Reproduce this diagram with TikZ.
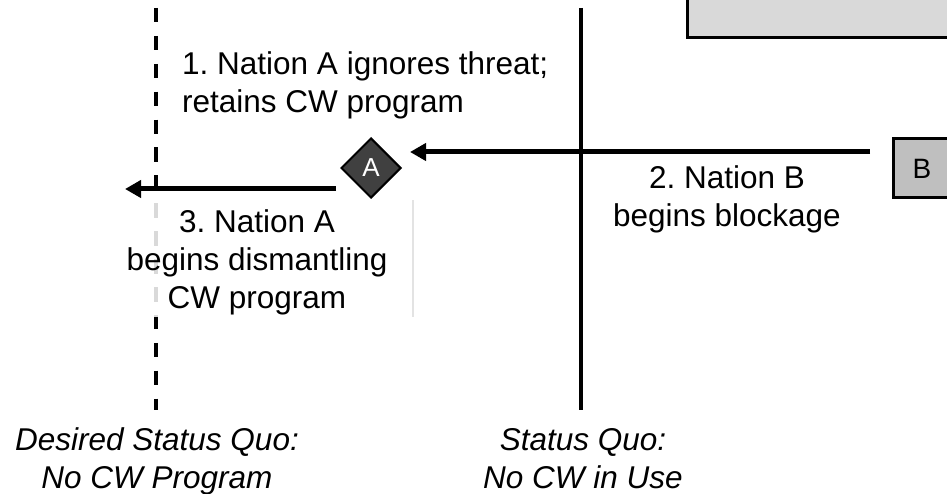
\documentclass[tikz,border=0pt]{standalone}
\usepackage{fontspec}
\setmainfont{Liberation Sans}
\usetikzlibrary{shapes.geometric,arrows.meta}
\definecolor{panelgray}{HTML}{D9D9D9}
\definecolor{boxgray}{HTML}{BFBFBF}
\definecolor{nodedark}{HTML}{404040}
\definecolor{veilgray}{HTML}{E3E3E3}
\frenchspacing
\begin{document}
\begin{tikzpicture}[x=1pt,y=-1pt,
  axisline/.style={line width=4pt},
  goalline/.style={line width=4pt, dash pattern=on 14.5pt off 13.4pt},
  move/.style={line width=5pt, -{Triangle[length=16pt,width=17pt]}},
  caption/.style={inner sep=0pt, font=\fontsize{31.5}{38}\selectfont},
  endlabel/.style={caption, align=center, font=\fontsize{31.5}{38}\selectfont\itshape},
  panel/.style={draw, line width=3pt, fill=panelgray, minimum width=273pt, minimum height=58pt, inner sep=0pt},
  actorbox/.style={draw, line width=3pt, fill=boxgray, minimum width=58pt, minimum height=59pt, inner sep=0pt, font=\fontsize{28}{32}\selectfont},
  actordiamond/.style={diamond, draw, line width=2pt, fill=nodedark, text=white, minimum width=60pt, minimum height=60pt, inner sep=0pt, font=\fontsize{26}{30}\selectfont}
]
\useasboundingbox (0,0) rectangle (947,494);

% reference lines
\coordinate (goaltop) at (156,8);
\coordinate (goalbot) at (156,410);
\coordinate (quotop) at (581,8);
\coordinate (quobot) at (581,410);
\draw[goalline] (goaltop) -- (goalbot);
\draw[axisline] (quotop) -- (quobot);

% actors
\node[panel] (panel) at (823.5,9) {};
\node[actorbox] (B) at (922,168.5) {B};
\node[actordiamond] (A) at (371,168) {A};

% moves
\coordinate (bout) at (870,152);
\coordinate (ain) at (410,152);
\coordinate (aout) at (336,189);
\coordinate (goalin) at (125,189);
\draw[move] (bout) -- (ain);
\draw[move] (aout) -- (goalin);

% faded strip behind the third caption
\fill[white, opacity=0.85] (150,200) rectangle (162,317);
\coordinate (veiltop) at (413,200);
\coordinate (veilbot) at (413,317);
\draw[veilgray, line width=1.3pt] (veiltop) -- (veilbot);

% captions (anchored at the baseline of their last line)
\node[caption, align=left, anchor=base west] (step1) at (182,113)
  {1. Nation A ignores threat;\\retains CW program};
\node[caption, align=center, anchor=base] (step2) at (727,227)
  {2. Nation B\\begins blockage};
\node[caption, align=center, anchor=base] (step3) at (257,308)
  {3. Nation A\\begins dismantling\\CW program};

\node[endlabel, anchor=base] (goallabel) at (157,488)
  {Desired Status Quo:\\No CW Program};
\node[endlabel, anchor=base] (quolabel) at (583,488)
  {Status Quo:\\No CW in Use};
\end{tikzpicture}
\end{document}
